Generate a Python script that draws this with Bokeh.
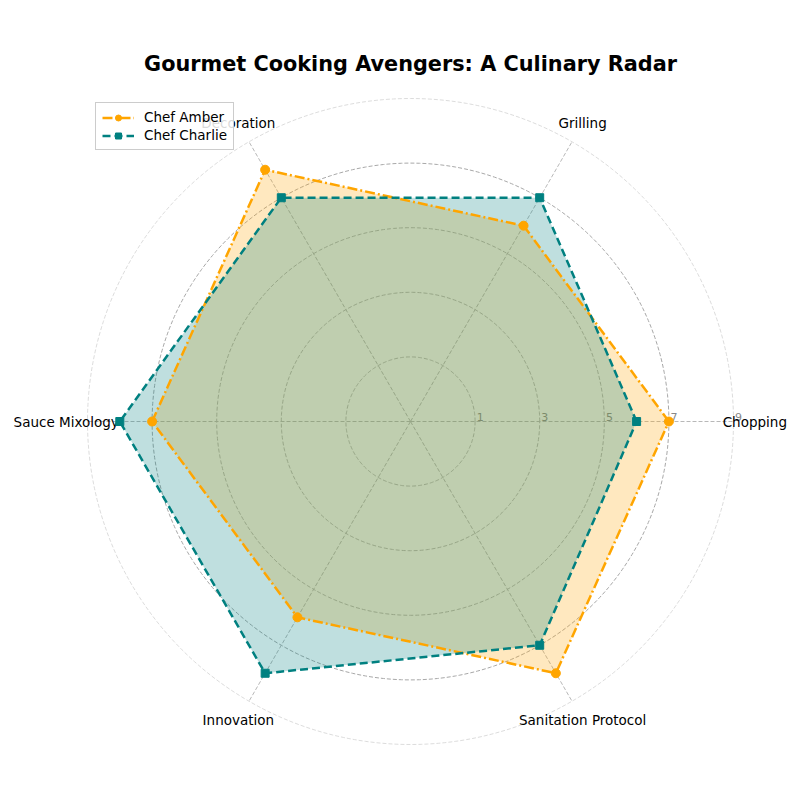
import numpy as np
from bokeh.plotting import figure
from bokeh.models import Label, Legend, LegendItem
from bokeh.core.properties import value
from bokeh.embed import file_html
from bokeh.resources import INLINE

categories = ["Chopping", "Grilling", "Decoration", "Sauce Mixology", "Innovation", "Sanitation Protocol"]
amber = [7, 6, 8, 7, 6, 8]
charlie = [6, 7, 7, 8, 8, 7]
r_ticks = [1, 3, 5, 7, 9]
r_min, r_max = -1, 9
title = "Gourmet Cooking Avengers: A Culinary Radar"

PX = 32.3  # pixels per unit
CX, CY = 410, 421  # center in screen px from top-left
W = H = 800

p = figure(width=W, height=H, output_backend="svg", toolbar_location=None,
           x_range=(-CX / PX, (W - CX) / PX), y_range=(-(H - CY) / PX, CY / PX),
           min_border=0, outline_line_color=None)
p.axis.visible = False
p.grid.visible = False

n = len(categories)
angles = np.arange(n) * 2 * np.pi / n

def to_xy(vals):
    r = np.array(vals, dtype=float) - r_min
    return r * np.cos(angles), r * np.sin(angles)

# ring grid
tt = np.linspace(0, 2 * np.pi, 361)
for t in r_ticks:
    rr = t - r_min
    if t == r_max:
        col, lw, dash = "#d3d3d3", 0.8, "4 2"
    elif t == 7:
        col, lw, dash = "#a8a8a8", 1.0, "4 2"
    else:
        col, lw, dash = "#b8b8b8", 1.0, "4 2"
    p.line(rr * np.cos(tt), rr * np.sin(tt), line_color=col, line_width=lw, line_dash=dash)

# spokes
R = r_max - r_min
for a in angles:
    p.line([0, R * np.cos(a)], [0, R * np.sin(a)], line_color="#b8b8b8", line_width=1, line_dash="4 2")

# tick labels
for t in r_ticks:
    rr = t - r_min
    p.text(x=[rr + 0.05], y=[0.02], text=[str(t)], text_font=value("DejaVu Sans"),
           text_font_size="11px", text_color="#888888", text_align="left", text_baseline="bottom")

# category labels
lab_r = R + 0.66
for a, c in zip(angles, categories):
    p.text(x=[lab_r * np.cos(a)], y=[lab_r * np.sin(a)], text=[c], text_font=value("DejaVu Sans"),
           text_font_size="13.5px", text_color="black", text_align="center", text_baseline="middle")

# series
ax_, ay_ = to_xy(amber)
cx_, cy_ = to_xy(charlie)
p.patch(np.append(ax_, ax_[0]), np.append(ay_, ay_[0]), fill_color="#FFA500", fill_alpha=0.25, line_color=None)
p.patch(np.append(cx_, cx_[0]), np.append(cy_, cy_[0]), fill_color="#008080", fill_alpha=0.25, line_color=None)

la = p.line(np.append(ax_, ax_[0]), np.append(ay_, ay_[0]), line_color="#FFA500", line_width=2.5, line_dash="10 3 2 3")
sa = p.scatter(ax_, ay_, marker="circle", size=9, fill_color="#FFA500", line_color="#FFA500")
lc = p.line(np.append(cx_, cx_[0]), np.append(cy_, cy_[0]), line_color="#008080", line_width=2.5, line_dash="8 4")
sc = p.scatter(cx_, cy_, marker="square", size=8, fill_color="#008080", line_color="#008080")

legend = Legend(items=[LegendItem(label="Chef Amber", renderers=[la, sa]),
                       LegendItem(label="Chef Charlie", renderers=[lc, sc])],
                location=(95, 650), label_text_font="DejaVu Sans", label_text_font_size="13.5px",
                label_text_color="black",
                glyph_width=32, glyph_height=15, spacing=2, padding=6, margin=0,
                label_standoff=10, border_line_color="#cccccc", border_line_alpha=1,
                background_fill_alpha=0.85)
p.add_layout(legend, "center")

p.add_layout(Label(x=410, y=H - 63, x_units="screen", y_units="screen", text=title,
                   text_font="DejaVu Sans", text_font_size="20.8px", text_font_style="bold",
                   text_color="black", text_align="center", text_baseline="middle"))

open("out.html", "w").write(file_html(p, INLINE))
